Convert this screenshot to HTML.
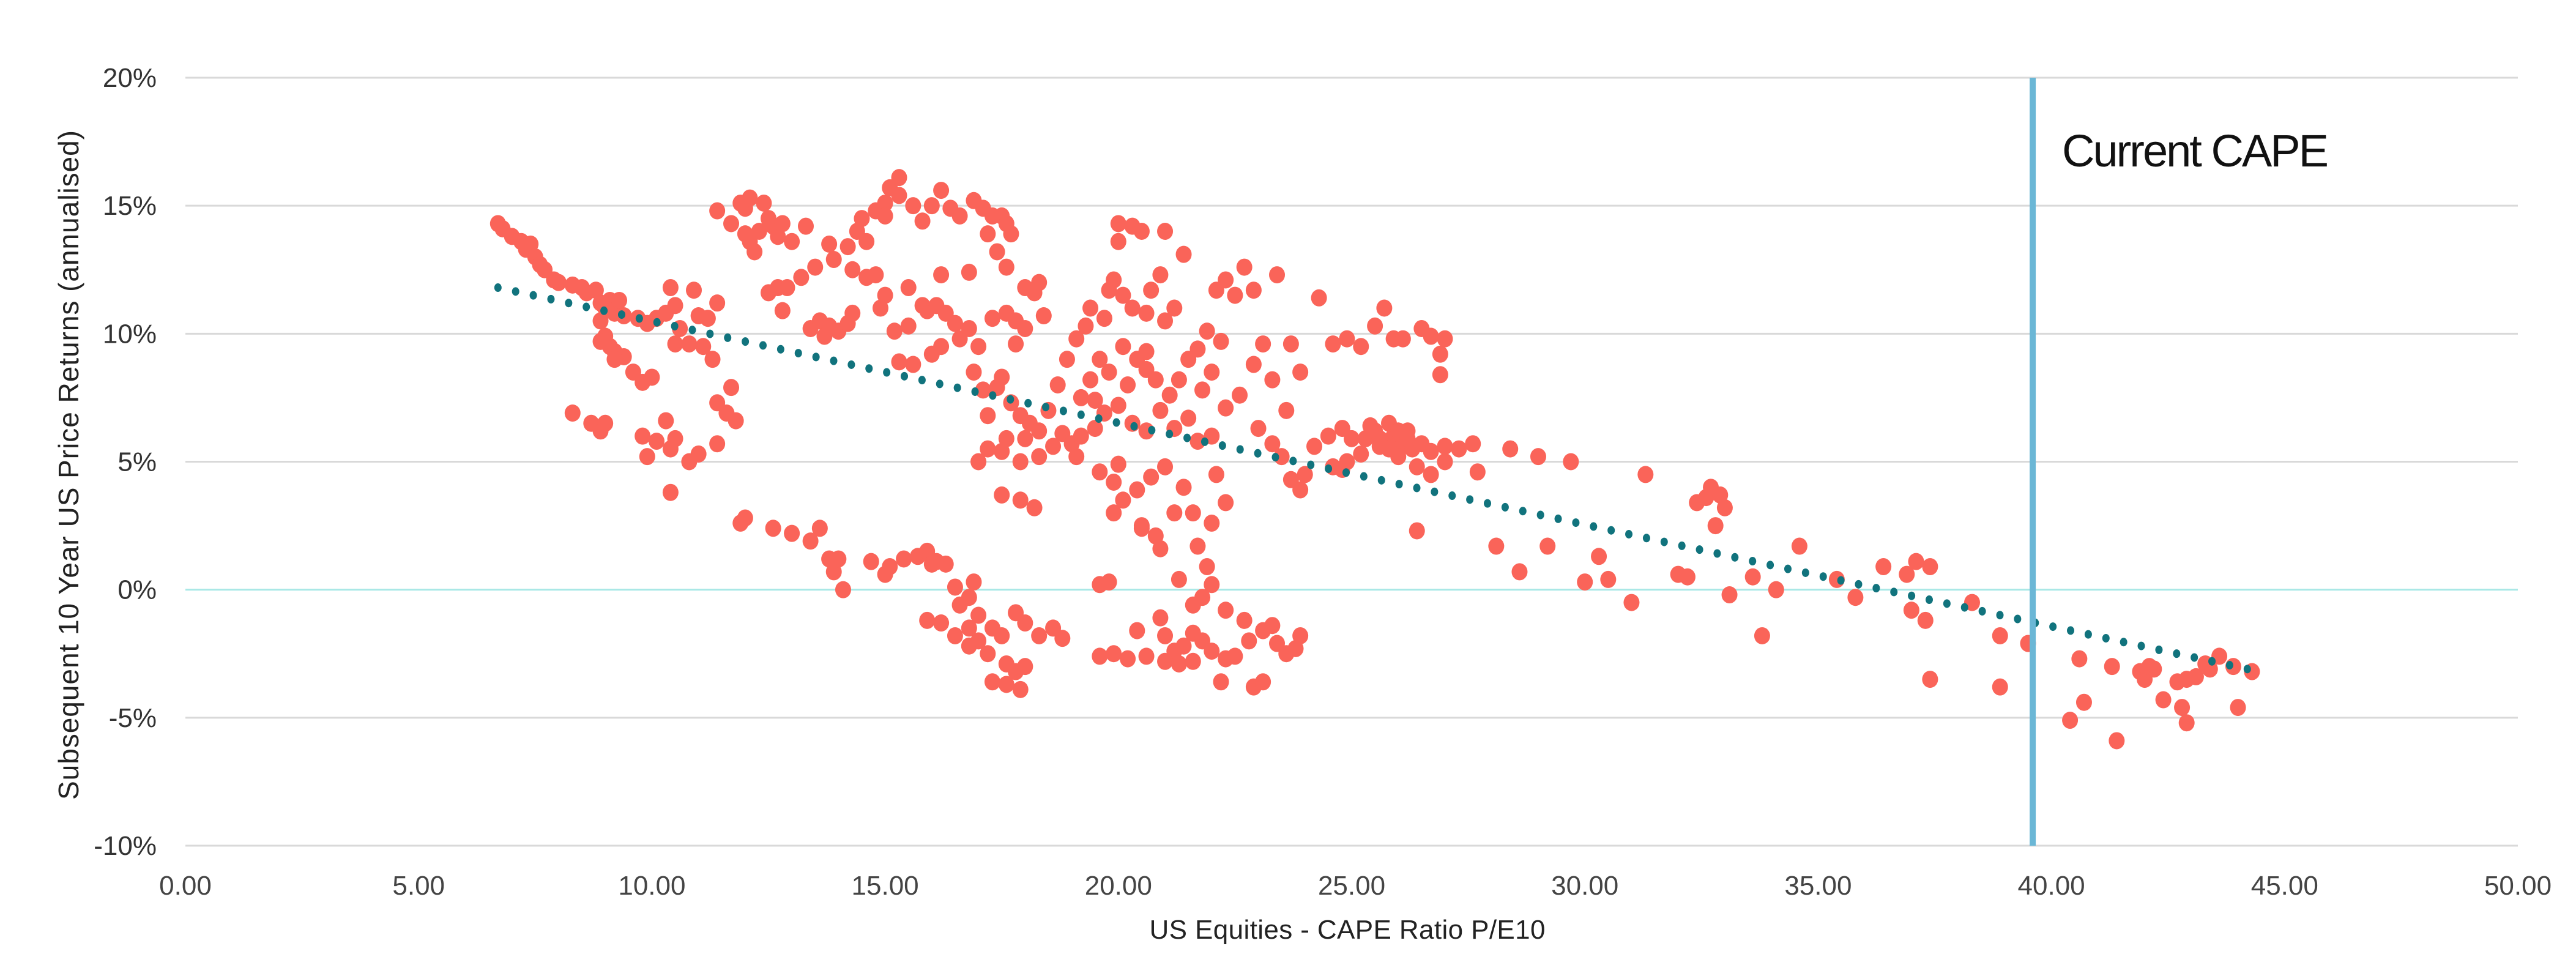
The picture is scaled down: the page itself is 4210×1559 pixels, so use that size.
<!DOCTYPE html>
<html><head><meta charset="utf-8"><style>
html,body{margin:0;padding:0;background:#fff;}
svg{display:block;font-family:"Liberation Sans",sans-serif;}
</style></head><body>
<svg id="chart" width="4210" height="1559" viewBox="0 0 4210 1559" xmlns="http://www.w3.org/2000/svg">
<g id="grid"></g>
<g id="yticks"></g>
<g id="xticks"></g>
<g id="points"></g>
<g id="trend"></g>
<rect id="capeLine" fill="#6bb7d6"></rect>
<text x="3370" y="272" font-size="74" fill="#111" textLength="436">Current CAPE</text>
<text transform="translate(128,760) rotate(-90)" text-anchor="middle" font-size="46" fill="#222" textLength="1094">Subsequent 10 Year US Price Returns (annualised)</text>
<text x="2202" y="1534" text-anchor="middle" font-size="44" fill="#222" textLength="647">US Equities - CAPE Ratio P/E10</text>
</svg>
<script>
const xTicks=[0,5,10,15,20,25,30,35,40,45,50];
const xTickLabels=["0.00","5.00","10.00","15.00","20.00","25.00","30.00","35.00","40.00","45.00","50.00"];
const yTicks=[20,15,10,5,0,-5,-10];
const yTickLabels=["20%","15%","10%","5%","0%","-5%","-10%"];
const currentCape=39.6;
const trendX=[6.7,44.2];
const trendY=[11.8,-3.1];
const capeValues=[6.7,6.8,7.0,7.2,7.3,7.4,7.5,7.6,7.7,7.9,8.0,8.3,8.5,8.6,8.8,8.9,9.0,9.1,9.2,9.3,9.4,8.9,9.0,9.1,8.9,9.2,9.4,9.6,9.8,10.0,9.2,9.7,9.9,10.1,10.3,10.5,10.6,10.8,10.9,11.0,11.2,11.3,11.4,10.4,10.5,11.1,8.3,8.7,8.9,9.0,9.8,9.9,10.1,10.3,10.4,10.5,10.4,10.8,11.0,11.4,11.4,11.6,11.8,11.7,11.4,11.7,11.9,12.0,12.1,12.3,12.4,12.5,12.6,12.7,12.8,12.1,12.0,12.2,12.5,12.7,12.8,12.9,13.2,13.0,13.3,13.4,13.6,13.7,13.8,14.0,14.2,13.5,13.8,13.9,14.2,14.3,14.4,14.6,14.5,14.8,15.0,15.1,15.3,15.0,15.3,15.6,15.8,16.0,16.2,16.4,16.6,16.9,17.1,17.3,17.5,17.6,17.7,17.6,17.4,17.2,16.8,16.2,15.8,15.5,15.0,14.8,14.6,14.3,14.9,15.2,15.5,15.9,16.1,16.3,16.5,16.8,17.0,16.6,16.0,15.6,15.3,16.2,17.3,17.6,17.8,18.0,18.3,18.2,18.4,18.0,17.8,17.5,17.1,16.9,17.4,17.2,17.7,17.9,18.1,18.3,18.0,17.6,17.2,17.0,17.5,17.9,18.3,18.6,18.8,19.0,19.2,19.5,17.5,17.9,18.2,19.1,18.5,18.7,18.9,19.1,19.3,19.4,19.7,19.8,19.9,20.0,20.3,20.5,20.1,20.3,20.6,20.7,20.9,21.2,21.0,20.1,20.4,20.6,20.8,20.2,19.8,19.6,19.4,19.2,19.5,19.7,20.0,20.3,20.6,20.9,21.1,21.3,21.5,21.7,21.9,22.1,22.3,22.5,22.7,22.2,22.0,21.8,21.5,21.2,21.7,22.0,22.3,22.6,22.9,23.1,23.3,23.0,23.3,23.5,23.7,23.9,24.0,24.2,24.5,24.8,25.0,25.3,25.5,25.7,25.9,26.1,26.3,26.5,26.7,27.0,27.3,27.6,26.0,25.6,25.2,24.9,24.6,25.4,25.8,26.2,26.4,26.7,27.0,27.7,24.8,24.6,24.9,25.2,25.5,25.7,25.9,26.1,26.5,26.7,26.9,26.9,27.0,26.4,24.3,23.4,22.9,23.7,23.9,23.6,21.4,21.0,20.0,20.6,21.0,20.7,20.4,20.1,19.9,19.6,20.0,20.5,20.8,21.2,21.4,21.6,22.0,22.3,22.1,19.9,20.9,25.6,26.0,25.8,26.2,28.1,28.6,29.2,29.0,28.4,29.7,30.0,30.3,30.5,31.0,31.3,32.0,32.2,32.4,32.6,32.7,32.9,33.0,32.8,33.1,33.6,33.8,34.1,34.6,35.4,35.8,36.4,36.9,37.1,37.4,37.0,37.3,37.4,38.3,38.9,38.9,39.5,40.4,40.6,40.7,41.3,41.4,41.9,42.0,42.2,42.4,42.7,42.8,42.9,43.1,43.3,43.4,43.6,43.9,44.0,44.3,42.9,42.1,11.9,12.0,12.6,13.0,13.4,13.6,13.8,13.9,14.0,14.1,14.7,15.1,15.0,15.4,15.7,15.9,16.1,16.3,16.5,16.6,16.8,17.0,17.3,17.0,17.5,16.8,16.2,16.5,15.9,17.8,18.0,17.6,17.8,18.0,17.9,17.6,17.3,16.8,17.2,18.6,18.3,16.9,16.0,18.8,19.6,19.8,19.6,19.9,20.2,20.6,20.4,20.9,21.0,21.2,21.4,21.6,21.8,21.0,21.3,21.6,22.0,22.3,22.2,22.9,23.1,23.4,23.6,23.8,23.9,23.1,22.7,22.3,21.8,21.9,21.7,21.3,22.0,20.5,21.6,22.8,23.3,22.5];
const returnValues=[14.3,14.1,13.8,13.6,13.3,13.5,13.0,12.7,12.5,12.1,12.0,11.9,11.8,11.6,11.7,11.2,11.0,11.3,10.8,11.3,10.7,10.5,9.9,9.5,9.7,9.3,9.1,8.5,8.1,8.3,9.0,10.6,10.4,10.6,10.8,11.1,10.2,9.6,11.7,10.7,10.6,9.0,11.2,11.8,9.6,9.5,6.9,6.5,6.2,6.5,6.0,5.2,5.8,6.6,5.5,5.9,3.8,5.0,5.3,5.7,7.3,6.9,6.6,7.9,14.8,14.3,15.1,14.9,15.3,14.0,15.1,14.5,14.2,13.8,14.3,13.6,13.9,13.2,11.6,11.8,10.9,11.8,12.2,13.6,14.2,10.2,10.5,9.9,10.3,10.1,10.4,12.6,13.5,12.9,13.4,12.5,14.0,13.6,14.5,14.8,15.1,15.7,16.1,14.6,15.4,15.0,14.4,15.0,15.6,14.9,14.6,15.2,14.9,14.6,14.6,14.3,13.9,12.6,13.2,13.9,12.4,12.3,11.1,11.8,11.5,12.3,12.2,10.8,11.0,10.1,10.3,10.9,11.1,10.8,10.4,10.2,9.5,9.8,9.2,8.8,8.9,9.5,10.6,10.8,10.5,11.8,12.0,11.6,10.7,10.2,9.6,8.3,7.8,8.5,7.9,6.8,7.3,6.8,6.5,6.2,5.9,5.9,5.5,5.0,5.4,5.0,5.2,5.6,6.1,5.7,6.0,6.3,3.7,3.5,3.2,5.2,7.0,8.0,9.0,9.8,10.3,11.0,10.6,11.7,12.1,14.3,14.2,14.0,11.5,11.0,10.8,11.7,12.3,11.0,10.5,9.5,9.0,8.6,8.2,8.0,8.5,9.0,8.2,7.5,7.4,6.9,7.2,6.5,6.2,7.0,7.6,8.2,9.0,9.4,10.1,11.7,12.1,11.5,12.6,9.7,8.5,7.8,6.7,6.3,5.8,6.0,7.1,7.6,8.8,9.6,8.2,6.3,5.7,5.2,4.3,3.9,4.5,5.6,6.0,6.3,5.9,5.9,6.2,5.8,6.0,5.7,5.5,5.7,5.4,5.6,5.5,5.7,5.2,5.6,5.3,5.0,4.8,6.4,6.5,6.2,4.8,4.5,5.0,4.6,4.7,9.6,9.8,9.5,10.3,11.0,9.8,9.8,10.2,9.9,9.2,8.4,9.8,2.3,11.4,12.3,11.7,9.6,8.5,7.0,13.1,14.0,13.6,9.3,4.8,4.4,3.9,3.5,4.2,4.6,4.9,2.5,2.1,3.0,4.0,3.0,2.6,3.4,4.5,3.0,1.6,5.9,6.2,5.5,5.9,1.7,0.7,1.7,5.2,5.5,5.0,0.3,1.3,0.4,-0.5,4.5,0.6,0.5,3.4,3.6,4.0,3.7,3.2,2.5,-0.2,0.5,-1.8,0.0,1.7,0.4,-0.3,0.9,0.6,1.1,0.9,-0.8,-1.2,-3.5,-0.5,-1.8,-3.8,-2.1,-5.1,-2.7,-4.4,-3.0,-5.9,-3.2,-3.5,-3.1,-4.3,-3.6,-4.6,-5.2,-3.4,-2.9,-3.1,-2.6,-3.0,-4.6,-3.2,-3.5,-3.0,2.6,2.8,2.4,2.2,1.9,2.4,1.2,0.7,1.2,0.0,1.1,0.9,0.6,1.2,1.3,1.5,1.1,1.0,0.1,-0.6,-0.3,-1.0,-1.5,-2.0,-1.8,-1.5,-1.3,-1.8,-1.2,-0.9,-1.3,-2.9,-3.2,-3.0,-3.9,-3.7,-3.6,-2.2,-2.5,-1.5,-1.8,0.3,1.0,-1.9,0.2,0.3,-2.6,-2.5,-2.7,-2.6,-1.6,-1.1,-1.8,-2.4,-2.2,-1.7,-2.0,-2.8,-2.9,-2.8,-2.4,-2.7,-3.6,-3.8,-3.6,-2.1,-2.5,-2.3,-1.8,-1.6,-1.2,-0.8,-0.3,0.9,1.7,0.4,0.2,2.4,-0.6,-2.0,-1.4,-2.6];

const NS="http://www.w3.org/2000/svg";
const X0=303,X1=4115,Y0=127,Y1=1382;
function xs(v){return X0+(v-0)/(50-0)*(X1-X0);}
function ys(v){return Y0+(20-v)/(20-(-10))*(Y1-Y0);}
function mk(tag,attrs,parent){const e=document.createElementNS(NS,tag);for(const k in attrs)e.setAttribute(k,attrs[k]);parent.appendChild(e);return e;}

const grid=document.getElementById('grid'),yt=document.getElementById('yticks'),xt=document.getElementById('xticks');
yTicks.forEach((t,i)=>{
  const l=mk('line',{x1:X0,x2:X1,y1:ys(t),y2:ys(t),stroke:t===0?'#a8e8e6':'#d9d9d9','stroke-width':3},grid);
  
  
  const tx=mk('text',{x:256,y:ys(t)+15,'text-anchor':'end','font-size':44,fill:'#333'},yt);
  tx.textContent=yTickLabels[i];
  
  
});
xTicks.forEach((t,i)=>{
  const tx=mk('text',{x:xs(t),y:1462,'text-anchor':'middle','font-size':44,fill:'#444'},xt);
  tx.textContent=xTickLabels[i];
  
  
});
const pts=document.getElementById('points');
capeValues.forEach((c,i)=>{
  const p=mk('ellipse',{cx:xs(c),cy:ys(returnValues[i]),rx:13,ry:14,fill:'#fa6459'},pts);
  
  
});
const tr=document.getElementById('trend');
const ax=xs(trendX[0]),ay=ys(trendY[0]),bx=xs(trendX[1]),by=ys(trendY[1]);
const len=Math.hypot(bx-ax,by-ay),n=Math.round(len/29.5);
for(let k=0;k<=n;k++){
  const d=mk('ellipse',{cx:ax+(bx-ax)*k/n,cy:ay+(by-ay)*k/n,rx:6,ry:7,fill:'#11737d'},tr);
  
  
}
const cl=document.getElementById('capeLine');
cl.setAttribute('x',xs(currentCape)-5);cl.setAttribute('y',Y0);cl.setAttribute('width',10);cl.setAttribute('height',Y1-Y0);
</script>
</body></html>
